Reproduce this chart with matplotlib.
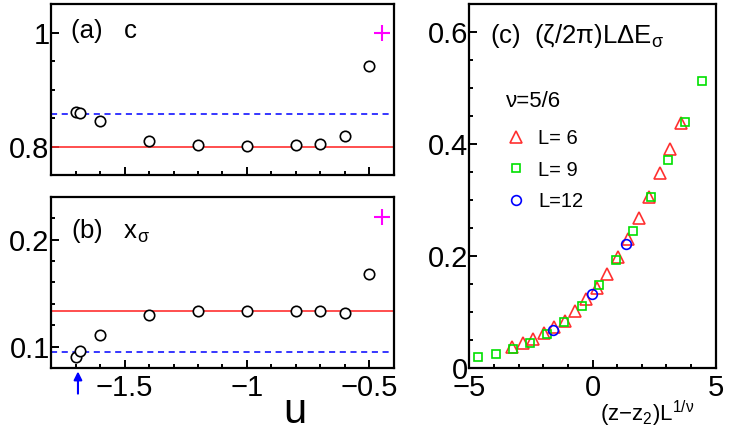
import numpy as np
import matplotlib
matplotlib.use('Agg')
import matplotlib.pyplot as plt
from matplotlib.ticker import MultipleLocator, FixedLocator, FixedFormatter

plt.rcParams['font.family'] = ['Liberation Sans', 'DejaVu Sans']
plt.rcParams['mathtext.fontset'] = 'custom'
plt.rcParams['mathtext.rm'] = 'Liberation Sans'
plt.rcParams['mathtext.it'] = 'Liberation Sans'
plt.rcParams['mathtext.default'] = 'regular'

# panels (a), (b): c and x_sigma vs u
u = [-1.7, -1.68, -1.6, -1.4, -1.2, -1.0, -0.8, -0.7, -0.6, -0.5]
c_vals = [0.861, 0.858, 0.845, 0.810, 0.802, 0.801, 0.802, 0.805, 0.819, 0.942]
xs_vals = [0.0907, 0.0963, 0.1112, 0.1293, 0.1333, 0.1336, 0.1333, 0.1330, 0.1314, 0.1675]
c_red, c_blue = 0.8, 6 / 7
xs_red, xs_blue = 2 / 15, 2 / 21
u_plus = -0.45
c_plus, xs_plus = 1.0, 0.2217
u_arrow = -1.69

# panel (c): scaling collapse
x6 = [-3.25, -2.83, -2.40, -1.98, -1.56, -1.13, -0.70, -0.26, 0.17, 0.60, 1.02, 1.45, 1.89, 2.29, 2.74, 3.16, 3.59]
y6 = [0.0385, 0.0457, 0.0528, 0.0624, 0.073, 0.085, 0.102, 0.1235, 0.144, 0.169, 0.198, 0.231, 0.268, 0.306, 0.348, 0.391, 0.437]
x9 = [-4.63, -3.93, -3.23, -2.52, -1.83, -1.14, -0.44, 0.26, 0.95, 1.66, 2.36, 3.06, 3.74, 4.46]
y9 = [0.0196, 0.026, 0.034, 0.046, 0.062, 0.083, 0.112, 0.148, 0.1925, 0.245, 0.305, 0.371, 0.440, 0.513]
x12 = [-1.60, -0.01, 1.37]
y12 = [0.068, 0.1325, 0.2216]

red = '#ff3030'
blue = '#0000ff'
green = '#00e000'

fig = plt.figure(figsize=(7.47, 4.36), dpi=100)
axa = fig.add_axes([0.0683, 0.5986, 0.4591, 0.3922])
axb = fig.add_axes([0.0683, 0.156, 0.4591, 0.3922])
axc = fig.add_axes([0.6283, 0.1553, 0.3298, 0.8355])


def style(ax):
    for s in ax.spines.values():
        s.set_linewidth(1.6)
    ax.tick_params(which='both', direction='in', top=False, right=False,
                   labelsize=21, width=1.4)
    ax.tick_params(which='major', length=5.5)
    ax.tick_params(which='minor', length=3)
    ax.tick_params(axis='y', pad=1)
    ax.tick_params(axis='x', pad=4)


for ax in (axa, axb):
    style(ax)
    ax.set_xlim(-1.8, -0.4)
    ax.xaxis.set_major_locator(FixedLocator([-1.5, -1.0, -0.5]))
    ax.xaxis.set_minor_locator(MultipleLocator(0.1))

# (a)
axa.axhline(c_red, color=red, lw=1.2)
axa.axhline(c_blue, color=blue, lw=1.1, ls=(0, (4, 3)))
axa.plot(u, c_vals, 'o', mfc='white', mec='black', mew=1.2, ms=7.5)
axa.plot([u_plus], [c_plus], '+', color='magenta', ms=11, mew=1.5)
axa.set_ylim(0.75, 1.05)
axa.yaxis.set_major_locator(FixedLocator([0.8, 1.0]))
axa.yaxis.set_major_formatter(FixedFormatter(['0.8', '1']))
axa.yaxis.set_minor_locator(MultipleLocator(0.05))
axa.tick_params(axis='x', labelbottom=False)
axa.text(0.057, 0.84, '(a)   c', transform=axa.transAxes, fontsize=18.5, va='center')

# (b)
axb.axhline(xs_red, color=red, lw=1.2)
axb.axhline(xs_blue, color=blue, lw=1.1, ls=(0, (4, 3)))
axb.plot(u, xs_vals, 'o', mfc='white', mec='black', mew=1.2, ms=7.5)
axb.plot([u_plus], [xs_plus], '+', color='magenta', ms=11, mew=1.5)
axb.set_ylim(0.08, 0.24)
axb.yaxis.set_major_locator(FixedLocator([0.1, 0.2]))
axb.yaxis.set_major_formatter(FixedFormatter(['0.1', '0.2']))
axb.yaxis.set_minor_locator(MultipleLocator(0.02))
axb.xaxis.set_major_formatter(FixedFormatter(['\u22121.5', '\u22121', '\u22120.5']))
axb.text(0.057, 0.80, '(b)   x$_{σ}$', transform=axb.transAxes, fontsize=18.5, va='center')
axb.set_xlabel('u', fontsize=30, va='center')
axb.xaxis.set_label_coords(0.711, -0.26)
axb.annotate('', xy=(u_arrow, -0.02), xytext=(u_arrow, -0.15),
             xycoords=axb.get_xaxis_transform(), textcoords=axb.get_xaxis_transform(),
             arrowprops=dict(arrowstyle='-|>', color=blue, lw=1.5, mutation_scale=12,
                             shrinkA=0, shrinkB=0))

# (c)
style(axc)
axc.plot(x6, y6, '^', mfc='none', mec=red, mew=1.2, ms=8, label='L= 6')
axc.plot(x9, y9, 's', mfc='none', mec=green, mew=1.2, ms=5.5, label='L= 9')
axc.plot(x12, y12, 'o', mfc='none', mec=blue, mew=1.2, ms=7, label='L=12')
axc.set_xlim(-5, 5)
axc.set_ylim(0, 0.65)
axc.xaxis.set_major_locator(FixedLocator([-5, 0, 5]))
axc.xaxis.set_major_formatter(FixedFormatter(['\u22125', '0', '5']))
axc.xaxis.set_minor_locator(MultipleLocator(1))
axc.yaxis.set_major_locator(FixedLocator([0, 0.2, 0.4, 0.6]))
axc.yaxis.set_major_formatter(FixedFormatter(['0', '0.2', '0.4', '0.6']))
axc.yaxis.set_minor_locator(MultipleLocator(0.05))
axc.text(0.083, 0.913, '(c)  (ζ/2π)LΔE$_{σ}$', transform=axc.transAxes, fontsize=18.5, va='center')
leg = axc.legend(loc='upper left', bbox_to_anchor=(0.075, 0.81), frameon=False,
                 title='ν=5/6', title_fontsize=16, fontsize=14.5, handlelength=1.0,
                 handletextpad=0.6, labelspacing=0.62, alignment='left')
leg._legend_box.sep = 12
axc.set_xlabel('(z\u2212z$_{2}$)L$^{1/ν}$', fontsize=16, va='center')
axc.xaxis.set_label_coords(0.72, -0.125)

fig.savefig('out.png', dpi=100)
